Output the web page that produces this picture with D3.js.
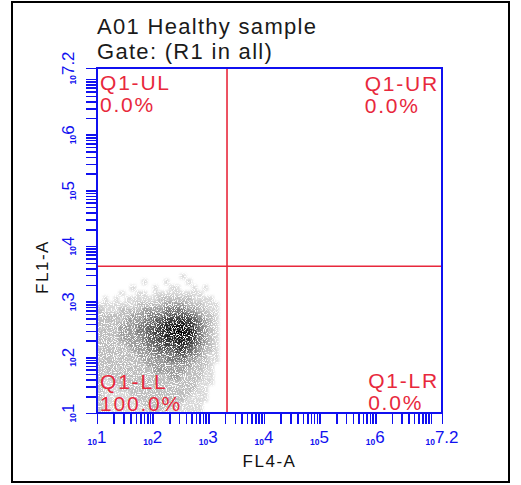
<!DOCTYPE html>
<html>
<head>
<meta charset="utf-8">
<script src="https://cdn.jsdelivr.net/npm/d3@7"></script>
<style>
  body { margin: 0; background: #fff; }
  svg { display: block; }
</style>
</head>
<body>
<div id="chart"></div>
<script>
// titles
const titleLines = ["A01 Healthy sample", "Gate: (R1 in all)"];
const xTitle = "FL4-A";
const yTitle = "FL1-A";

// log axis: decades 10^1 .. 10^7.2
const axisMin = 1, axisMax = 7.2;
const tickExps = ["1", "2", "3", "4", "5", "6", "7.2"];

// quadrant gate
const quadX = 2170, quadY = 4350;
const quadNames = ["Q1-UL", "Q1-UR", "Q1-LL", "Q1-LR"];
const quadPct = ["0.0%", "0.0%", "100.0%", "0.0%"];

// density grid, 0.1 decade cells, x from 10^1.0 to 10^3.4, rows from 10^3.6 (top) down to 10^1.0
const cellStep = 0.1;
const densityRows = [
  [0,0,0,0,0,0,0,0,0,0,0,0,0,0,0,0,0,0,0,0,0,0,0,0],
  [0,0,0,0,0,0,0,0,0,0,0,0,0,0,0,1,0,0,0,0,0,0,0,0],
  [0,0,0,0,0,0,0,0,1,0,0,0,1,0,0,0,1,0,0,0,0,0,0,0],
  [0,0,0,0,0,0,1,0,0,0,1,0,0,1,1,0,0,1,0,1,0,0,0,0],
  [0,0,0,0,1,0,0,1,1,0,1,1,1,1,1,1,1,1,1,0,0,0,0,0],
  [0,1,0,1,0,1,1,1,1,1,1,2,2,2,2,2,2,1,1,1,1,0,0,0],
  [1,1,1,1,1,1,1,2,2,2,2,2,3,3,3,3,2,2,2,1,1,1,0,0],
  [2,1,1,1,2,2,2,2,3,3,3,3,4,4,4,4,3,3,2,2,1,1,0,0],
  [2,2,2,2,2,2,3,3,3,4,4,4,5,5,5,5,5,4,3,2,2,1,0,0],
  [2,2,2,2,2,3,3,3,4,4,5,5,6,6,7,7,6,5,4,3,2,1,0,0],
  [2,2,2,2,3,3,3,4,4,5,5,6,7,8,8,8,7,6,4,3,2,1,0,0],
  [2,2,2,2,3,3,3,4,4,5,6,6,7,8,9,9,8,6,4,3,2,1,0,0],
  [2,2,2,2,3,3,3,3,4,5,5,6,7,7,8,8,7,6,4,3,2,1,0,0],
  [2,2,2,2,2,3,3,3,4,4,5,5,6,6,7,7,6,5,4,3,2,1,0,0],
  [2,2,2,2,2,2,3,3,3,4,4,5,5,5,6,6,5,4,3,2,2,1,0,0],
  [2,2,2,2,2,2,2,3,3,3,4,4,4,4,5,5,4,4,3,2,1,1,0,0],
  [2,2,2,2,2,2,2,2,3,3,3,3,4,4,4,4,3,3,2,2,1,1,0,0],
  [2,2,2,2,2,2,2,2,2,3,3,3,3,3,3,3,3,2,2,2,1,0,0,0],
  [2,2,2,2,2,2,2,2,2,2,3,3,3,3,3,3,2,2,2,1,1,0,0,0],
  [2,1,2,2,2,2,2,2,2,2,2,2,2,3,3,2,2,2,2,1,1,0,0,0],
  [2,1,1,2,2,2,2,2,2,2,2,2,2,2,2,2,2,2,1,1,1,0,0,0],
  [2,1,1,1,2,2,2,2,2,2,2,2,2,2,2,2,2,2,1,1,0,0,0,0],
  [2,1,1,1,1,1,2,2,2,2,2,2,2,2,2,2,2,1,1,1,0,0,0,0],
  [2,1,1,1,1,1,1,2,2,2,2,2,2,2,2,2,1,1,1,1,0,0,0,0],
  [2,1,1,1,1,1,1,1,2,2,2,2,2,2,2,1,1,1,1,0,0,0,0,0],
  [2,1,1,1,1,1,1,1,1,2,2,2,1,1,1,1,1,1,1,0,0,0,0,0]
];
const gridTop = 3.6;

const W = 521, H = 485;
const blue = "#1010f0", red = "#e8283c";
const plot = { left: 97, right: 442, top: 68, bottom: 413 };
const font = "Liberation Sans, Arial, sans-serif";

const svg = d3.select("#chart").append("svg")
    .attr("width", W).attr("height", H);

// dotted look for the density cells
const defs = svg.append("defs");
const clip = defs.append("clipPath").attr("id", "plotClip");
clip.append("rect").attr("x", plot.left + 1).attr("y", plot.top)
    .attr("width", plot.right - plot.left).attr("height", plot.bottom - plot.top);
const filt = defs.append("filter").attr("id", "speckle")
    .attr("filterUnits", "userSpaceOnUse")
    .attr("x", 0).attr("y", 0).attr("width", W).attr("height", H);
filt.append("feGaussianBlur").attr("in", "SourceGraphic").attr("stdDeviation", 1.6).attr("result", "blur");
filt.append("feTurbulence").attr("type", "fractalNoise").attr("baseFrequency", 0.9)
    .attr("numOctaves", 1).attr("seed", 4).attr("result", "noise");
filt.append("feColorMatrix").attr("in", "noise").attr("type", "matrix")
    .attr("values", "0 0 0 0 0  0 0 0 0 0  0 0 0 0 0  9 0 0 0 -3.4").attr("result", "mask");
filt.append("feComposite").attr("in", "blur").attr("in2", "mask").attr("operator", "in");

// outer frame
svg.append("rect")
    .attr("x", 12).attr("y", 2).attr("width", 497).attr("height", 480)
    .attr("fill", "#fff").attr("stroke", "#000").attr("stroke-width", 2);

const x = d3.scaleLog().domain([10 ** axisMin, 10 ** axisMax]).range([plot.left, plot.right]);
const y = d3.scaleLog().domain([10 ** axisMin, 10 ** axisMax]).range([plot.bottom, plot.top]);

// density cells
const shade = d3.scaleLinear().domain([1, 2, 4, 6, 8, 9])
    .range(["#d8d8d8", "#bdbdbd", "#7a7a7a", "#3a3a3a", "#141414", "#000000"]);
const cells = [];
densityRows.forEach((row, j) => {
    row.forEach((v, i) => {
        if (v > 0) cells.push({
            x0: 10 ** (axisMin + i * cellStep),
            x1: 10 ** (axisMin + (i + 1) * cellStep),
            y1: 10 ** (gridTop - j * cellStep),
            y0: 10 ** (gridTop - (j + 1) * cellStep),
            v: v
        });
    });
});
svg.append("g")
    .attr("clip-path", "url(#plotClip)")
    .append("g")
    .attr("filter", "url(#speckle)")
    .attr("shape-rendering", "crispEdges")
    .selectAll("rect")
    .data(cells)
    .enter()
    .append("rect")
    .attr("x", d => x(d.x0))
    .attr("y", d => y(d.y1))
    .attr("width", d => x(d.x1) - x(d.x0))
    .attr("height", d => y(d.y0) - y(d.y1))
    .attr("fill", d => shade(d.v));

// quadrant lines
svg.append("line")
    .attr("x1", x(quadX)).attr("x2", x(quadX))
    .attr("y1", plot.top).attr("y2", plot.bottom)
    .attr("stroke", red).attr("stroke-width", 1.6);
svg.append("line")
    .attr("x1", plot.left).attr("x2", plot.right)
    .attr("y1", y(quadY)).attr("y2", y(quadY))
    .attr("stroke", red).attr("stroke-width", 1.6);

// ticks: every k*10^d, plus the 10^7.2 end
const tickVals = [];
for (let d = axisMin; d < 8; d++) {
    for (let k = 1; k <= 9; k++) {
        const v = k * 10 ** d;
        if (v <= 10 ** axisMax) tickVals.push(v);
    }
}
tickVals.push(10 ** axisMax);
const labelVals = tickExps.map(e => 10 ** (+e));

const xAxis = d3.axisBottom(x).tickValues(tickVals).tickSize(11).tickFormat("");
const yAxis = d3.axisLeft(y).tickValues(tickVals).tickSize(11).tickFormat("");

const gx = svg.append("g").attr("transform", `translate(0,${plot.bottom})`).call(xAxis);
const gy = svg.append("g").attr("transform", `translate(${plot.left},0)`).call(yAxis);
[gx, gy].forEach(g => {
    g.select(".domain").remove();
    g.selectAll(".tick line").attr("stroke", blue).attr("stroke-width", 1.6)
        .attr("shape-rendering", "crispEdges");
});

// plot frame
svg.append("rect")
    .attr("x", plot.left).attr("y", plot.top)
    .attr("width", plot.right - plot.left).attr("height", plot.bottom - plot.top)
    .attr("fill", "none").attr("stroke", blue).attr("stroke-width", 2);

// tick labels
const xl = svg.append("g").attr("fill", blue).attr("font-family", font);
labelVals.forEach((v, i) => {
    const t = xl.append("text")
        .attr("x", x(v)).attr("y", 444)
        .attr("text-anchor", "middle");
    t.append("tspan").attr("font-size", 8.5).attr("font-weight", "bold").attr("dy", 1).text("10");
    t.append("tspan").attr("font-size", 17).attr("dy", -2).text(tickExps[i]);
});
const yl = svg.append("g").attr("fill", blue).attr("font-family", font);
labelVals.forEach((v, i) => {
    const t = yl.append("text")
        .attr("transform", `translate(75,${y(v)}) rotate(-90)`)
        .attr("text-anchor", "middle");
    t.append("tspan").attr("font-size", 8.5).attr("font-weight", "bold").attr("dy", 1).text("10");
    t.append("tspan").attr("font-size", 17).attr("dy", -2).text(tickExps[i]);
});

// axis titles
svg.append("text")
    .attr("x", (plot.left + plot.right) / 2).attr("y", 467)
    .attr("text-anchor", "middle")
    .attr("font-family", font)
    .attr("font-size", 17).attr("letter-spacing", 1.5).attr("fill", "#111")
    .text(xTitle);
svg.append("text")
    .attr("transform", "translate(48,267) rotate(-90)")
    .attr("text-anchor", "middle")
    .attr("font-family", font)
    .attr("font-size", 17).attr("letter-spacing", 1.5).attr("fill", "#111")
    .text(yTitle);

// title
svg.selectAll(".title")
    .data(titleLines)
    .enter()
    .append("text")
    .attr("class", "title")
    .attr("x", plot.left).attr("y", (d, i) => 34 + i * 25)
    .attr("font-family", font)
    .attr("font-size", 22).attr("letter-spacing", 1.3).attr("fill", "#1a1a1a")
    .text(d => d);

// quadrant labels
const qPos = [
    { x: plot.left + 3, y: 90, right: false },
    { x: plot.right - 3, y: 91, right: true },
    { x: plot.left + 3, y: 389, right: false },
    { x: plot.right - 3, y: 388, right: true }
];
qPos.forEach((p, i) => {
    const a = svg.append("text")
        .attr("x", p.x).attr("y", p.y)
        .attr("font-family", font).attr("font-size", 21)
        .attr("letter-spacing", 1.8).attr("fill", red)
        .text(quadNames[i]);
    let left = p.x;
    if (p.right) {
        left = p.x - a.node().getComputedTextLength();
        a.attr("x", left);
    }
    svg.append("text")
        .attr("x", left).attr("y", p.y + 22)
        .attr("font-family", font).attr("font-size", 21)
        .attr("letter-spacing", 1.8).attr("fill", red)
        .text(quadPct[i]);
});
</script>
</body>
</html>
